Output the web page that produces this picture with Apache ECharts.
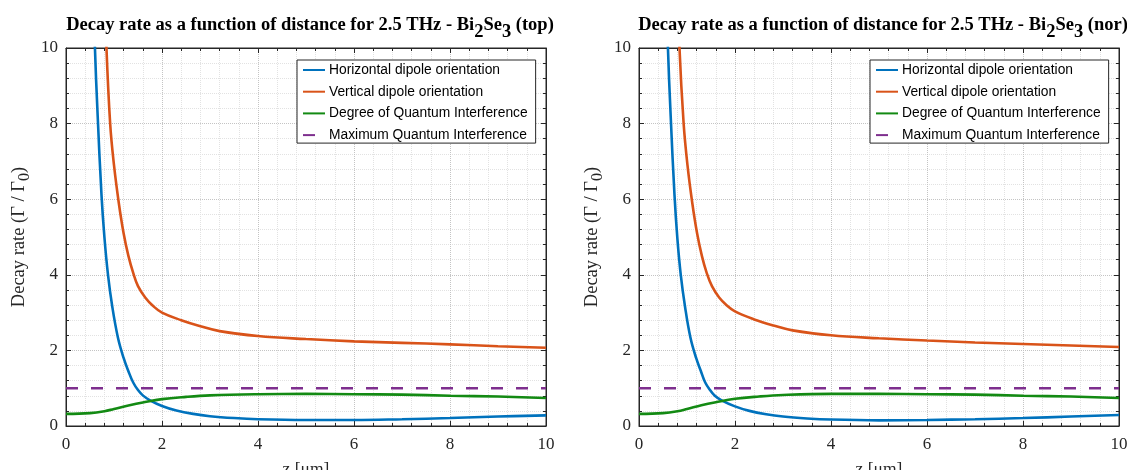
<!DOCTYPE html>
<html>
<head>
<meta charset="utf-8">
<script src="https://cdn.jsdelivr.net/npm/echarts@6/dist/echarts.min.js"></script>
<style>
  html, body { margin: 0; padding: 0; background: #fff; }
  #chart { width: 1127px; height: 470px; }
</style>
</head>
<body>
<div id="chart"></div>
<script>
// values, [z (um), decay rate]
const horizTop = [[0.55, 12.5], [0.6, 10.1], [0.66, 8.2], [0.74, 6.1], [0.8, 5.0], [0.875, 4.0], [0.965, 3.15],
  [1.08, 2.35], [1.2, 1.8], [1.3, 1.45], [1.4, 1.15], [1.5, 0.95], [1.6, 0.81], [1.75, 0.68], [2.0, 0.53],
  [2.3, 0.41], [2.65, 0.32], [3, 0.26], [3.5, 0.21], [4, 0.18], [5, 0.16], [6, 0.16], [7, 0.18], [8, 0.21],
  [9, 0.25], [10, 0.28]]
const vertTop = [[0.8, 12], [0.84, 10.1], [0.92, 8.0], [1.0, 6.9], [1.1, 5.9], [1.2, 5.1], [1.3, 4.5], [1.4, 4.05],
  [1.5, 3.7], [1.65, 3.4], [1.81, 3.18], [2.0, 3.0], [2.4, 2.8], [2.8, 2.64], [3.2, 2.51], [4, 2.38], [5, 2.3],
  [6, 2.24], [7, 2.2], [8, 2.16], [9, 2.11], [10, 2.07]]
const dqiTop = [[0, 0.32], [0.5, 0.34], [0.8, 0.39], [1.0, 0.45], [1.3, 0.54], [1.6, 0.62], [2, 0.71], [2.5, 0.77],
  [3, 0.81], [4, 0.84], [5, 0.85], [6, 0.84], [7, 0.83], [8, 0.8], [9, 0.78], [10, 0.74]]

const horizNor = [[0.55, 12.5], [0.6, 10.1], [0.66, 8.2], [0.74, 6.1], [0.8, 4.95], [0.87, 4.0], [0.96, 3.15],
  [1.07, 2.35], [1.19, 1.8], [1.29, 1.45], [1.38, 1.15], [1.48, 0.95], [1.58, 0.8], [1.72, 0.68], [2.0, 0.52],
  [2.3, 0.4], [2.65, 0.31], [3, 0.25], [3.5, 0.2], [4, 0.17], [5, 0.15], [6, 0.16], [7, 0.18], [8, 0.21],
  [9, 0.25], [10, 0.29]]
const vertNor = [[0.8, 12], [0.84, 10.1], [0.93, 8.0], [1.01, 6.9], [1.11, 5.9], [1.21, 5.1], [1.31, 4.5], [1.41, 4.05],
  [1.52, 3.7], [1.67, 3.4], [1.83, 3.19], [2.0, 3.03], [2.4, 2.82], [2.8, 2.66], [3.2, 2.53], [4, 2.4], [5, 2.32],
  [6, 2.26], [7, 2.21], [8, 2.17], [9, 2.13], [10, 2.09]]
const dqiNor = [[0, 0.32], [0.5, 0.34], [0.8, 0.39], [1.0, 0.45], [1.3, 0.55], [1.6, 0.63], [2, 0.72], [2.5, 0.78],
  [3, 0.82], [4, 0.85], [5, 0.85], [6, 0.84], [7, 0.83], [8, 0.8], [9, 0.78], [10, 0.74]]

const maxQI = [[0, 1], [10, 1]]

const seriesNames = ['Horizontal dipole orientation', 'Vertical dipole orientation',
  'Degree of Quantum Interference', 'Maximum Quantum Interference']
const colors = ['#0072BD', '#D95319', '#138A13', '#7E2F8E']
const titles = ['(top)', '(nor)']

const serif = 'Liberation Serif'
const ink = '#262626'

let chartDom = document.getElementById('chart')
let myChart = echarts.init(chartDom, null, {renderer: 'canvas'})

const grids = [
  {left: 66, top: 48, width: 480, height: 378, show: true, borderColor: ink, borderWidth: 1,
    containLabel: false, outerBoundsMode: 'none'},
  {left: 639, top: 48, width: 480, height: 378, show: true, borderColor: ink, borderWidth: 1,
    containLabel: false, outerBoundsMode: 'none'}
]

function xAx(i, top) {
  return {
    type: 'value', gridIndex: i, min: 0, max: 10, interval: 2,
    position: top ? 'top' : 'bottom',
    name: top ? '' : 'z [\u03bcm]', nameLocation: 'middle', nameGap: 34, nameMoveOverlap: false,
    nameTextStyle: {fontFamily: serif, fontSize: 17.5, color: ink},
    axisLine: {show: true, onZero: false, lineStyle: {color: ink, width: 1}},
    axisTick: {show: true, inside: true, length: 5, lineStyle: {color: ink}},
    minorTick: {show: true, splitNumber: 5, length: 3, lineStyle: {color: ink}},
    axisLabel: {show: !top, margin: 10, fontFamily: serif, fontSize: 17, color: ink},
    splitLine: {show: !top, lineStyle: {type: 'dotted', color: '#c4c4c4', width: 1}},
    minorSplitLine: {show: !top, lineStyle: {type: 'dotted', color: '#e2e2e2', width: 1}}
  }
}

function yAx(i, right) {
  return {
    type: 'value', gridIndex: i, min: 0, max: 10, interval: 2,
    position: right ? 'right' : 'left',
    name: right ? '' : '{a|Decay rate (\u0393 / \u0393}{s|0}{a|)}',
    nameLocation: 'middle', nameGap: 33, nameRotate: 90,
    nameTextStyle: {
      rich: {
        a: {fontFamily: serif, fontSize: 18.5, color: ink},
        s: {fontFamily: serif, fontSize: 16, color: ink, padding: [12, 0, 0, 0]}
      }
    },
    axisLine: {show: true, onZero: false, lineStyle: {color: ink, width: 1}},
    axisTick: {show: true, inside: true, length: 5, lineStyle: {color: ink}},
    minorTick: {show: true, splitNumber: 5, length: 3, lineStyle: {color: ink}},
    axisLabel: {show: !right, margin: 8, fontFamily: serif, fontSize: 17, color: ink},
    splitLine: {show: !right, lineStyle: {type: 'dotted', color: '#c4c4c4', width: 1}},
    minorSplitLine: {show: !right, lineStyle: {type: 'dotted', color: '#e2e2e2', width: 1}}
  }
}

function lineSeries(name, data, idx, color, dashed) {
  return {
    name: name, type: 'line', xAxisIndex: idx, yAxisIndex: idx,
    data: data, showSymbol: false, symbol: 'none',
    smooth: dashed ? false : 0.4, clip: true,
    lineStyle: {color: color, width: 2.6, type: dashed ? [12, 13] : 'solid'},
    itemStyle: {color: color},
    emphasis: {disabled: true}, silent: true
  }
}

const plotData = [[horizTop, vertTop, dqiTop, maxQI], [horizNor, vertNor, dqiNor, maxQI]]
const series = []
plotData.forEach((set, g) => {
  set.forEach((d, k) => series.push(lineSeries(seriesNames[k], d, g, colors[k], k === 3)))
})

const titleRich = {
  a: {fontFamily: serif, fontSize: 18.5, fontWeight: 'bold', color: '#000'},
  s: {fontFamily: serif, fontSize: 18.5, fontWeight: 'bold', color: '#000', padding: [14, 0, 0, 0]}
}

const lineOption = {
  animation: false,
  backgroundColor: '#fff',
  title: titles.map((t, i) => ({
    text: '{a|Decay rate as a function of distance for 2.5 THz - Bi}{s|2}{a|Se}{s|3}{a| ' + t + '}',
    left: i === 0 ? 305 : 878, top: 4, textAlign: 'center',
    textStyle: {rich: titleRich}
  })),
  legend: [297, 870].map(l => ({
    data: seriesNames, orient: 'vertical', left: l, top: 60,
    itemWidth: 22, itemHeight: 14, itemGap: 7.7,
    padding: [3, 8, 1, 5],
    backgroundColor: '#fff', borderColor: ink, borderWidth: 1,
    selectedMode: false,
    itemStyle: {color: 'rgba(0,0,0,0)', borderWidth: 0, opacity: 0},
    textStyle: {fontFamily: 'Liberation Sans', fontSize: 13.8, color: '#000', padding: [0, 0, 0, -1]}
  })),
  grid: grids,
  xAxis: [xAx(0, false), xAx(1, false), xAx(0, true), xAx(1, true)],
  yAxis: [yAx(0, false), yAx(1, false), yAx(0, true), yAx(1, true)],
  series: series
}

myChart.setOption(lineOption)
</script>
</body>
</html>
